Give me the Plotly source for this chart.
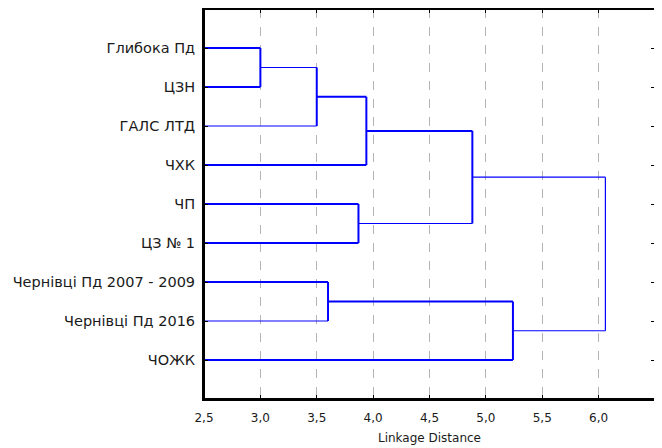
import plotly.graph_objects as go

# ---- data ----
leaf_labels = ["Глибока Пд", "ЦЗН", "ГАЛС ЛТД", "ЧХК", "ЧП", "ЦЗ № 1",
               "Чернівці Пд 2007 - 2009", "Чернівці Пд 2016", "ЧОЖК"]
# merges: (left child, right child, linkage distance); children: leaf index or "M<k>"
merge_left = [0, "M0", "M1", 4, "M2", 6, "M5", "M4"]
merge_right = [1, 2, 3, 5, "M3", 7, 8, "M6"]
merge_height = [3.00, 3.50, 3.94, 3.87, 4.88, 3.60, 5.24, 6.06]
x_ticks = [2.5, 3.0, 3.5, 4.0, 4.5, 5.0, 5.5, 6.0, 6.5]
x_min = 2.5

# ---- styling (which legs are drawn thin) ----
thin_legs = {(1, "L"), (1, "R"), (4, "R"), (5, "R"), (7, "L"), (7, "R"), (7, "V")}

BLUE = "#0000ff"

def pos(node):
    """return (y, height) of a node"""
    if isinstance(node, int):
        return node + 1, x_min
    k = int(node[1:])
    yl, _ = pos(merge_left[k])
    yr, _ = pos(merge_right[k])
    return (yl + yr) / 2, merge_height[k]

thick_x, thick_y, thin_x, thin_y = [], [], [], []

def add(seg, thin):
    (x0, y0), (x1, y1) = seg
    if thin:
        thin_x.extend([x0, x1, None]); thin_y.extend([y0, y1, None])
    else:
        thick_x.extend([x0, x1, None]); thick_y.extend([y0, y1, None])

for k in range(len(merge_height)):
    h = merge_height[k]
    yl, hl = pos(merge_left[k])
    yr, hr = pos(merge_right[k])
    add(((hl, yl), (h, yl)), (k, "L") in thin_legs)
    add(((h, yl), (h, yr)), (k, "V") in thin_legs)
    add(((hr, yr), (h, yr)), (k, "R") in thin_legs)

fig = go.Figure()
fig.add_trace(go.Scatter(x=thick_x, y=thick_y, mode="lines",
                         line=dict(color=BLUE, width=2), hoverinfo="skip"))
fig.add_trace(go.Scatter(x=thin_x, y=thin_y, mode="lines",
                         line=dict(color=BLUE, width=1.2), hoverinfo="skip"))

fig.update_layout(
    width=654, height=440,
    margin=dict(l=196, r=7, t=1, b=49),
    paper_bgcolor="white", plot_bgcolor="white",
    showlegend=False,
    separators=",.",
    font=dict(family="DejaVu Sans", color="#1a1a1a"),
    shapes=[dict(type="rect", xref="paper", yref="paper", x0=0, x1=1, y0=0, y1=1,
                 line=dict(color="black", width=2), layer="above")],
)
fig.update_xaxes(
    range=[2.5, 6.5], tickvals=x_ticks, tickformat=".1f",
    showgrid=True, gridcolor="#b4b4b4", gridwidth=1, griddash="dash",
    showline=True, linecolor="black", linewidth=2, mirror="ticks",
    ticks="inside", ticklen=4, tickcolor="black",
    tickfont=dict(size=12, family="DejaVu Sans", color="#1a1a1a"),
    ticklabelstandoff=7,
    title=dict(text="Linkage Distance", font=dict(size=12, family="DejaVu Sans", color="#1a1a1a"), standoff=9),
    zeroline=False, automargin=False,
)
fig.update_yaxes(
    range=[10, 0], tickvals=list(range(1, len(leaf_labels) + 1)), ticktext=leaf_labels,
    showgrid=False, zeroline=False,
    showline=True, linecolor="black", linewidth=2, mirror="ticks",
    ticks="inside", ticklen=4, tickcolor="black",
    tickfont=dict(size=14.5, family="DejaVu Sans", color="#1a1a1a"),
    ticklabelstandoff=4, automargin=False,
)
fig.write_html("out.html")
